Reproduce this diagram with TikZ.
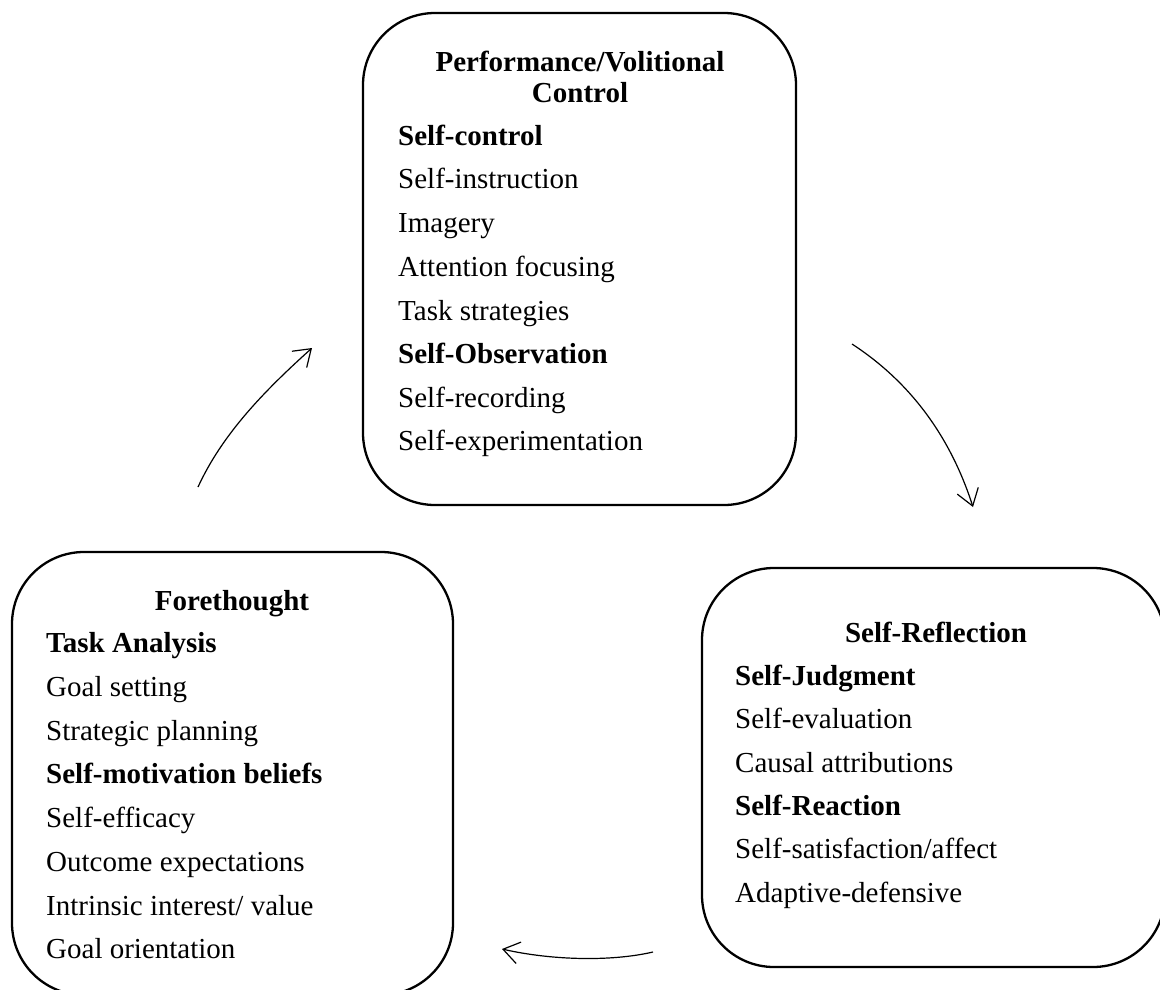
\documentclass[tikz,border=0pt]{standalone}
\usepackage{fontspec}
\setmainfont{Liberation Serif}
\usetikzlibrary{arrows.meta}
\begin{document}
\begin{tikzpicture}[x=1pt,y=-1pt,
  box/.style={draw, line width=2.3pt, rounded corners=72pt, rectangle, inner sep=0pt},
  item/.style={anchor=base west, inner sep=0pt, font=\fontsize{29}{31}\selectfont},
  head/.style={anchor=base, inner sep=0pt, align=center, font=\fontsize{29}{31}\selectfont\bfseries},
  arr/.style={line width=1.2pt, -{Straight Barb[length=16pt,width=22pt,line width=1.2pt]}}]
\clip (0,0) rectangle (1160,989);
\useasboundingbox (0,0) rectangle (1160,989);
% boxes
\node[box, minimum width=433pt, minimum height=492pt] (perf) at (579.5,259) {};
\node[box, minimum width=441pt, minimum height=443pt] (fore) at (232.5,773.5) {};
\node[box, minimum width=463pt, minimum height=399pt] (refl) at (933.5,767.5) {};
% top box text
\node[head] (ph1) at (580,71) {Performance/Volitional};
\node[head] (ph2) at (580,102) {Control};
\node[item, font=\fontsize{29}{31}\selectfont\bfseries] (p1) at (398,145) {Self-control};
\node[item] (p2) at (398,188) {Self-instruction};
\node[item] (p3) at (398,232) {Imagery};
\node[item] (p4) at (398,276) {Attention focusing};
\node[item] (p5) at (398,320) {Task strategies};
\node[item, font=\fontsize{29}{31}\selectfont\bfseries] (p6) at (398,363) {Self-Observation};
\node[item] (p7) at (398,407) {Self-recording};
\node[item] (p8) at (398,450) {Self-experimentation};
% left box text
\node[head] (fh) at (232,610) {Forethought};
\node[item, font=\fontsize{29}{31}\selectfont\bfseries] (f1) at (46,652) {Task Analysis};
\node[item] (f2) at (46,696) {Goal setting};
\node[item] (f3) at (46,740) {Strategic planning};
\node[item, font=\fontsize{29}{31}\selectfont\bfseries] (f4) at (46,783) {Self-motivation beliefs};
\node[item] (f5) at (46,827) {Self-efficacy};
\node[item] (f6) at (46,871) {Outcome expectations};
\node[item] (f7) at (46,915) {Intrinsic interest/ value};
\node[item] (f8) at (46,958) {Goal orientation};
% right box text
\node[head] (rh) at (936,642) {Self-Reflection};
\node[item, font=\fontsize{29}{31}\selectfont\bfseries] (r1) at (735,685) {Self-Judgment};
\node[item] (r2) at (735,728) {Self-evaluation};
\node[item] (r3) at (735,772) {Causal attributions};
\node[item, font=\fontsize{29}{31}\selectfont\bfseries] (r4) at (735,815) {Self-Reaction};
\node[item] (r5) at (735,858) {Self-satisfaction/affect};
\node[item] (r6) at (735,902) {Adaptive-defensive};
% arrows
\coordinate (a1s) at (198,487);
\coordinate (a1e) at (312,348);
\coordinate (a2s) at (852,344);
\coordinate (a2e) at (973,507);
\coordinate (a3s) at (653,952);
\coordinate (a3e) at (502,949);
\draw[arr] (a1s) .. controls (222,435) and (262,393) .. (a1e);
\draw[arr] (a2s) .. controls (895,372) and (945,420) .. (a2e);
\draw[arr] (a3s) .. controls (610,962) and (550,960) .. (a3e);
\end{tikzpicture}
\end{document}
